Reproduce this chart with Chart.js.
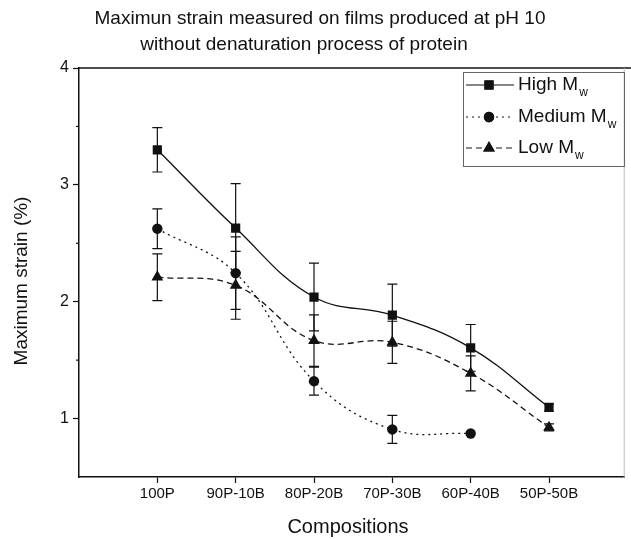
<!DOCTYPE html>
<html>
<head>
<meta charset="utf-8">
<script src="https://cdn.jsdelivr.net/npm/chart.js@4/dist/chart.umd.min.js"></script>
<style>
  html, body { margin: 0; padding: 0; background: #fff; }
  #wrap { width: 631px; height: 539px; }
</style>
</head>
<body>
<div id="wrap"><canvas id="strainChart"></canvas></div>
<script>
// data
var categories = ['100P', '90P-10B', '80P-20B', '70P-30B', '60P-40B', '50P-50B'];
var highMw = [3.30, 2.63, 2.04, 1.885, 1.605, 1.095];
var highErr = [0.19, 0.38, 0.29, 0.265, 0.20, 0.03];
var mediumMw = [2.625, 2.245, 1.32, 0.907, 0.872, null];
var mediumErr = [0.17, 0.31, 0.12, 0.12, 0, null];
var lowMw = [2.21, 2.14, 1.667, 1.653, 1.387, 0.924];
var lowErr = [0.20, 0.29, 0.22, 0.18, 0.15, 0.03];
var yTicks = [1, 2, 3, 4];

var ink = '#111';
var font = 'Liberation Sans, Arial, sans-serif';

function points(values) {
    return values.map(function (v, i) { return { x: i, y: v }; });
}

// vertical error bars with caps, drawn under the lines
var errorBars = {
    id: 'errorBars',
    beforeDatasetsDraw(chart) {
        const { ctx, scales: { x, y } } = chart;
        const errs = [highErr, mediumErr, lowErr];
        ctx.save();
        ctx.strokeStyle = ink;
        ctx.lineWidth = 1.2;
        chart.data.datasets.forEach(function (ds, k) {
            ds.data.forEach(function (p, i) {
                const e = errs[k][i];
                if (p.y == null || !e) return;
                const px = x.getPixelForValue(p.x);
                const top = y.getPixelForValue(p.y + e);
                const bot = y.getPixelForValue(p.y - e);
                ctx.beginPath();
                ctx.moveTo(px, top); ctx.lineTo(px, bot);
                ctx.moveTo(px - 5, top); ctx.lineTo(px + 5, top);
                ctx.moveTo(px - 5, bot); ctx.lineTo(px + 5, bot);
                ctx.stroke();
            });
        });
        ctx.restore();
    }
};

// frame, minor ticks, titles and legend with subscript
var decorations = {
    id: 'decorations',
    afterDraw(chart) {
        const { ctx, chartArea: { top, bottom, left, right }, scales: { y } } = chart;
        ctx.save();
        // frame
        ctx.lineWidth = 1.5;
        ctx.strokeStyle = ink;
        ctx.beginPath();
        ctx.moveTo(left, top); ctx.lineTo(chart.width, top);
        ctx.stroke();
        ctx.lineWidth = 1;
        ctx.strokeStyle = '#bbb';
        ctx.beginPath();
        ctx.moveTo(right, top); ctx.lineTo(right, bottom);
        ctx.stroke();
        // minor y ticks
        ctx.strokeStyle = ink;
        ctx.lineWidth = 1.2;
        [1.5, 2.5, 3.5].forEach(function (v) {
            const py = y.getPixelForValue(v);
            ctx.beginPath();
            ctx.moveTo(left - 3, py); ctx.lineTo(left, py);
            ctx.stroke();
        });

        // titles
        ctx.fillStyle = ink;
        ctx.textAlign = 'center';
        ctx.textBaseline = 'middle';
        ctx.font = '19px ' + font;
        ctx.fillText('Maximun strain measured on films produced at pH 10', 320, 19);
        ctx.fillText('without denaturation process of protein', 304, 45);
        ctx.font = '20px ' + font;
        ctx.fillText('Compositions', 348, 527);
        ctx.save();
        ctx.translate(22, 281);
        ctx.rotate(-Math.PI / 2);
        ctx.font = '19px ' + font;
        ctx.fillText('Maximum strain (%)', 0, 0);
        ctx.restore();

        // legend
        ctx.lineWidth = 1;
        ctx.strokeStyle = '#666';
        ctx.strokeRect(463.5, 72.5, 161, 94);
        const rows = [
            { name: 'High M', ds: 0, y: 85 },
            { name: 'Medium M', ds: 1, y: 117 },
            { name: 'Low M', ds: 2, y: 148 }
        ];
        rows.forEach(function (r) {
            const ds = chart.data.datasets[r.ds];
            ctx.save();
            ctx.strokeStyle = ink;
            ctx.lineWidth = 1.2;
            ctx.setLineDash(ds.borderDash || []);
            ctx.beginPath();
            ctx.moveTo(466, r.y); ctx.lineTo(514, r.y);
            ctx.stroke();
            ctx.restore();
            ctx.fillStyle = ink;
            Chart.helpers.drawPoint(ctx, {
                pointStyle: ds.pointStyle, radius: ds.pointRadius, borderWidth: 0
            }, 489, r.y);
            ctx.fill();
            ctx.textAlign = 'left';
            ctx.font = '19px ' + font;
            ctx.fillText(r.name, 518, r.y);
            const w = ctx.measureText(r.name).width;
            ctx.font = '12px ' + font;
            ctx.fillText('w', 518 + w + 1, r.y + 8);
        });
        ctx.restore();
    }
};

var lineBase = {
    borderColor: ink,
    backgroundColor: ink,
    pointBorderWidth: 0,
    borderWidth: 1.3,
    tension: 0.4,
    fill: false,
    spanGaps: false
};

var data = {
    datasets: [
        Object.assign({}, lineBase, {
            label: 'High Mw',
            data: points(highMw),
            pointStyle: 'rect',
            pointRadius: 6.5
        }),
        Object.assign({}, lineBase, {
            label: 'Medium Mw',
            data: points(mediumMw),
            pointStyle: 'circle',
            pointRadius: 5.2,
            borderDash: [2, 4]
        }),
        Object.assign({}, lineBase, {
            label: 'Low Mw',
            data: points(lowMw),
            pointStyle: 'triangle',
            pointRadius: 6.8,
            borderDash: [6, 4]
        })
    ]
};

var config = {
    type: 'line',
    data: data,
    options: {
        responsive: false,
        animation: false,
        layout: { padding: { top: 68, right: 2, left: 0, bottom: 0 } },
        plugins: {
            legend: { display: false },
            tooltip: { enabled: false }
        },
        scales: {
            x: {
                type: 'linear',
                min: -1,
                max: 5.96,
                afterFit: function (s) { s.height = 62; },
                afterBuildTicks: function (s) {
                    s.ticks = categories.map(function (c, i) { return { value: i }; });
                },
                border: { display: true, color: ink, width: 1.5 },
                grid: { drawOnChartArea: false, tickLength: 6, tickColor: ink, tickWidth: 1.2 },
                ticks: {
                    color: ink,
                    padding: 2,
                    maxRotation: 0,
                    font: { family: font, size: 15 },
                    callback: function (v) { return categories[v]; }
                }
            },
            y: {
                min: 0.5,
                max: 4,
                afterFit: function (s) { s.width = 79; },
                afterBuildTicks: function (s) {
                    s.ticks = yTicks.map(function (v) { return { value: v }; });
                },
                border: { display: true, color: ink, width: 1.5 },
                grid: { drawOnChartArea: false, tickLength: 6, tickColor: ink, tickWidth: 1.2 },
                ticks: {
                    color: ink,
                    padding: 4,
                    font: { family: font, size: 16 }
                }
            }
        }
    },
    plugins: [errorBars, decorations]
};

var canvas = document.getElementById('strainChart');
canvas.width = 631;
canvas.height = 539;
var strainChart = new Chart(canvas, config);
</script>
</body>
</html>
